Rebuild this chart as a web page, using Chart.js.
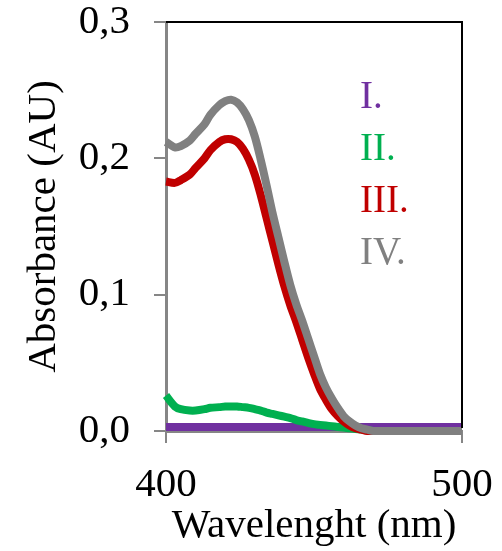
<!DOCTYPE html>
<html>
<head>
<meta charset="utf-8">
<script src="https://cdn.jsdelivr.net/npm/chart.js@4.4.1/dist/chart.umd.min.js"></script>
<style>
  html, body { margin: 0; padding: 0; background: #fff; }
  #wrap { width: 502px; height: 551px; }
</style>
</head>
<body>
<div id="wrap"><canvas id="chart" width="502" height="551"></canvas></div>
<script>
// Longitudes de onda (nm) compartidas por las cuatro series
const wavelengths = [400, 403, 405, 408, 410, 413, 415, 418, 420, 422, 424, 426, 428, 430,
  432, 434, 436, 438, 440, 442, 444, 446, 448, 450, 452, 454, 456, 458, 460, 462, 464, 466,
  468, 470, 480, 490, 500];

const seriesLabels = ["I.", "II.", "III.", "IV."];
const seriesColors = ["#7030a0", "#00b050", "#c00000", "#808080"];

const absI = [0.003, 0.003, 0.003, 0.003, 0.003, 0.003, 0.003, 0.003, 0.003, 0.003, 0.003,
  0.003, 0.003, 0.003, 0.003, 0.003, 0.003, 0.003, 0.003, 0.003, 0.003, 0.003, 0.003, 0.003,
  0.003, 0.003, 0.003, 0.003, 0.003, 0.003, 0.003, 0.003, 0.003, 0.003, 0.003, 0.003, 0.003];

const absII = [0.026, 0.018, 0.016, 0.015, 0.015, 0.016, 0.017, 0.0175, 0.018, 0.018, 0.018,
  0.0175, 0.017, 0.016, 0.015, 0.0135, 0.0125, 0.0115, 0.0105, 0.0095, 0.008, 0.007, 0.006,
  0.005, 0.0045, 0.004, 0.0035, 0.003, 0.0025, 0.002, 0.0015, 0.001, 0.0005, 0, 0, 0, 0];

const absIII = [0.183, 0.182, 0.184, 0.188, 0.193, 0.200, 0.206, 0.212, 0.214, 0.214, 0.212,
  0.207, 0.199, 0.188, 0.173, 0.156, 0.139, 0.122, 0.106, 0.092, 0.080, 0.067, 0.054, 0.042,
  0.031, 0.023, 0.016, 0.011, 0.007, 0.004, 0.002, 0.001, 0, 0, 0, 0, 0];

const absIV = [0.212, 0.208, 0.209, 0.213, 0.218, 0.225, 0.232, 0.239, 0.242, 0.243, 0.241,
  0.236, 0.228, 0.216, 0.199, 0.180, 0.160, 0.142, 0.124, 0.107, 0.093, 0.081, 0.068, 0.055,
  0.042, 0.032, 0.024, 0.017, 0.011, 0.007, 0.004, 0.002, 0.001, 0, 0, 0, 0];

const xTickLabels = ["400", "500"];
const yTickLabels = ["0,0", "0,1", "0,2", "0,3"];

const serif = "'Liberation Serif', 'Times New Roman', serif";
const axisGray = "#868686";

const toPoints = (ys) => wavelengths.map((x, i) => ({ x, y: ys[i] }));

// Borde superior y derecho en negro + leyenda escrita dentro del área
const framePlugin = {
  id: "frame",
  afterDatasetsDraw(chart) {
    const { ctx, chartArea: a } = chart;
    ctx.save();
    ctx.strokeStyle = "#000";
    ctx.lineWidth = 2;
    ctx.beginPath();
    ctx.moveTo(a.left, a.top);
    ctx.lineTo(a.right, a.top);
    ctx.lineTo(a.right, a.bottom - 3);
    ctx.stroke();

    ctx.font = "39px " + serif;
    ctx.textBaseline = "middle";
    ctx.textAlign = "left";
    seriesLabels.forEach((label, i) => {
      ctx.fillStyle = seriesColors[i];
      ctx.fillText(label, a.left + 194, a.top + 76 + i * 52);
    });
    ctx.restore();
  }
};

const datasets = [absI, absII, absIII, absIV].map((ys, i) => ({
  label: seriesLabels[i],
  data: toPoints(ys),
  borderColor: seriesColors[i],
  backgroundColor: seriesColors[i],
  borderWidth: 8,
  pointRadius: 0,
  tension: 0.3,
  clip: false,
  order: 4 - i
}));

new Chart(document.getElementById("chart"), {
  type: "line",
  data: { datasets },
  plugins: [framePlugin],
  options: {
    responsive: false,
    animation: false,
    layout: { padding: { top: 22, right: 40, left: 0, bottom: 0 } },
    plugins: {
      legend: { display: false },
      tooltip: { enabled: false }
    },
    scales: {
      x: {
        type: "linear",
        min: 400,
        max: 500,
        afterFit: (scale) => {
          scale.height = 120;
          scale.paddingLeft = 0;
          scale.paddingRight = 0;
        },
        afterBuildTicks: (scale) => {
          scale.ticks = xTickLabels.map((t) => ({ value: Number(t) }));
        },
        ticks: {
          color: "#000",
          font: { family: serif, size: 41 },
          padding: 18,
          maxRotation: 0,
          callback: (v) => String(v)
        },
        grid: {
          drawOnChartArea: false,
          drawTicks: true,
          tickLength: 12,
          color: axisGray,
          lineWidth: 2
        },
        border: { color: axisGray, width: 3 },
        title: {
          display: true,
          text: "Wavelenght (nm)",
          color: "#000",
          font: { family: serif, size: 41 },
          padding: { top: 0, bottom: 0 }
        }
      },
      y: {
        min: 0,
        max: 0.3,
        afterFit: (scale) => {
          scale.width = 166;
          scale.paddingTop = 0;
          scale.paddingBottom = 0;
        },
        afterBuildTicks: (scale) => {
          scale.ticks = yTickLabels.map((t, i) => ({ value: i / 10 }));
        },
        ticks: {
          color: "#000",
          font: { family: serif, size: 41 },
          padding: 24,
          callback: (v, i) => yTickLabels[i]
        },
        grid: {
          drawOnChartArea: false,
          drawTicks: true,
          tickLength: 12,
          color: axisGray,
          lineWidth: 2
        },
        border: { color: axisGray, width: 3 },
        title: {
          display: true,
          text: "Absorbance (AU)",
          color: "#000",
          font: { family: serif, size: 41 },
          padding: { top: 20, bottom: 0 }
        }
      }
    }
  }
});
</script>
</body>
</html>
